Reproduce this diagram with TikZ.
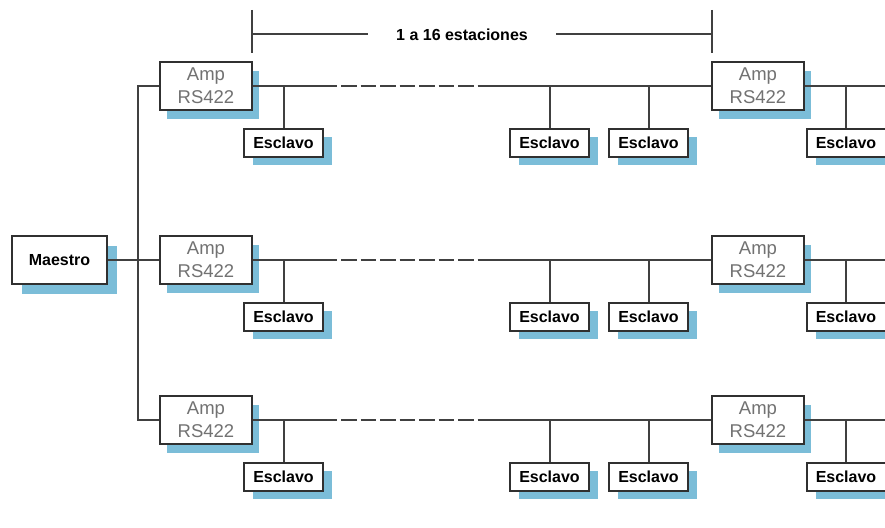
\documentclass[tikz,border=0pt]{standalone}
\usepackage{fontspec}
\setmainfont{Liberation Sans}
\usetikzlibrary{shadows}
\definecolor{wirecol}{HTML}{404040}
\definecolor{boxline}{HTML}{303030}
\definecolor{shade}{HTML}{7BBDD8}
\definecolor{amptext}{HTML}{727272}

\begin{document}
\begin{tikzpicture}[x=1pt,y=-1pt,
  wire/.style={draw=wirecol,line width=2pt},
  gapwire/.style={wire,dash pattern=on 15.5pt off 4pt,dash phase=15.5pt},
  box/.style={draw=boxline,line width=2pt,fill=white,inner sep=0pt},
  ampbox/.style={box,minimum width=92pt,minimum height=48pt,align=center,
    text=amptext,font=\fontsize{18.5}{23}\selectfont,
    general shadow={fill=shade,shadow xshift=7pt,shadow yshift=-9pt}},
  slavebox/.style={box,minimum width=79pt,minimum height=28pt,
    font=\fontsize{16}{18}\selectfont\bfseries,
    general shadow={fill=shade,shadow xshift=9pt,shadow yshift=-8pt}},
  masterbox/.style={box,minimum width=95pt,minimum height=48pt,
    font=\fontsize{16}{18}\selectfont\bfseries,
    general shadow={fill=shade,shadow xshift=10pt,shadow yshift=-10pt}},
  spanlabel/.style={inner xsep=28pt,inner ysep=2pt,font=\fontsize{16}{18}\selectfont\bfseries}
]
\useasboundingbox (0,0) rectangle (885,527);
\fill[white] (0,0) rectangle (885,527);
\clip (0,0) rectangle (885,527);

% span of stations per segment
\coordinate (t1a) at (252,10);
\coordinate (t1b) at (252,53);
\coordinate (t2a) at (712,10);
\coordinate (t2b) at (712,53);
\coordinate (m1) at (252,34);
\coordinate (m2) at (712,34);
\node[spanlabel] (span) at (462,35) {1 a 16 estaciones};
\draw[wire] (t1a) -- (t1b);
\draw[wire] (t2a) -- (t2b);
\draw[wire] (m1) -- (m1 -| span.west);
\draw[wire] (span.east |- m2) -- (m2);

% master station
\node[masterbox] (master) at (59.5,260) {Maestro};

% three RS422 segments
\foreach \r/\y in {1/86,2/260,3/420}{
  \node[ampbox] (aL\r) at (206,\y) {Amp\\RS422};
  \node[ampbox] (aR\r) at (758,\y) {Amp\\RS422};
  \node[slavebox] (sa\r) at (283.5,\y+56.5) {Esclavo};
  \node[slavebox] (sb\r) at (549.5,\y+56.5) {Esclavo};
  \node[slavebox] (sc\r) at (648.5,\y+56.5) {Esclavo};
  \node[slavebox] (sd\r) at (846,\y+56.5) {Esclavo};
  \coordinate (ds\r) at (337,\y);
  \coordinate (de\r) at (493,\y);
  \coordinate (end\r) at (892,\y);
  \draw[wire] (aL\r.east) -- (ds\r);
  \draw[gapwire] (ds\r) -- (de\r);
  \draw[wire] (de\r) -- (aR\r.west);
  \draw[wire] (aR\r.east) -- (end\r);
  \draw[wire] (sa\r.north) -- (sa\r.north |- aL\r.east);
  \draw[wire] (sb\r.north) -- (sb\r.north |- aL\r.east);
  \draw[wire] (sc\r.north) -- (sc\r.north |- aL\r.east);
  \draw[wire] (sd\r.north) -- (sd\r.north |- aR\r.east);
}

% bus from the master to the segment amplifiers
\coordinate (busT) at (138,86);
\coordinate (busB) at (138,420);
\draw[wire] (aL1.west) -- (busT) -- (busB) -- (aL3.west);
\draw[wire] (master.east) -- (aL2.west);
\end{tikzpicture}
\end{document}
